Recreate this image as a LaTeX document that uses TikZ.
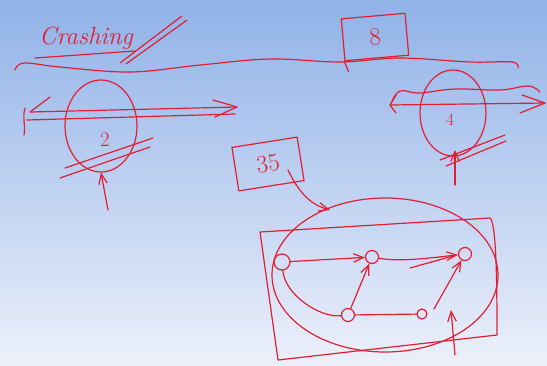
\documentclass[tikz,border=0pt]{standalone}
\usetikzlibrary{arrows.meta,positioning,shapes.geometric}
\definecolor{ink}{RGB}{226,30,52}
\definecolor{boardtop}{RGB}{144,178,232}
\definecolor{boardbot}{RGB}{236,240,250}
\begin{document}
\begin{tikzpicture}[
    x=1pt, y=-1pt,
    pen/.style={draw=ink, line width=1.2pt, line cap=round, line join=round},
    arrow/.style={pen, -{Straight Barb[length=3.5mm, width=3mm]}},
    vertex/.style={pen, circle, minimum size=13pt, inner sep=0pt},
    hand/.style={text=ink, font=\Huge},
    numbox/.style={pen, minimum width=64pt, minimum height=42pt, hand}
  ]
    % board
    \shade[top color=boardtop, bottom color=boardbot] (0,0) rectangle (547,365);
    \useasboundingbox (0,0) rectangle (547,365);

    % title and crossing marks
    \node[hand, font=\Huge\itshape] (crash) at (86,38) {Crashing};
    \draw[pen] (35,58) -- (135,51);
    \draw[pen] (120,63) -- (182,16);
    \draw[pen] (126,64) -- (187,20);
    \draw[pen] plot[smooth, tension=0.6] coordinates {(15,70) (24,63) (60,67) (130,72) (200,65) (270,59) (340,62) (400,58) (470,62) (512,62) (518,68)};

    % box 8
    \node[numbox, rotate=5] (eight) at (375,37) {8};
    \draw[pen] (eight.south west) -- ++(4,10);

    % left pulley
    \node[pen, ellipse, minimum width=72pt, minimum height=92pt] (pulleyL) at (101,126) {};
    \node[hand, font=\huge] (two) at (105,140) {2};
    \coordinate (shaftLa) at (30,112);
    \coordinate (shaftLb) at (237,107);
    \coordinate (shaftLc) at (27,120);
    \coordinate (shaftLd) at (235,114);
    \draw[pen] (shaftLa) -- (shaftLb);
    \draw[pen] (shaftLc) -- (shaftLd);
    \draw[pen] (213,100) -- (shaftLb) -- (215,117);
    \draw[pen] (50,97) -- (shaftLa);
    \draw[pen] (25,108) .. controls (22,118) and (26,126) .. (24,135);
    \draw[pen] (65,168) -- (153,138);
    \draw[pen] (60,178) -- (150,147);
    \coordinate (pushL) at (108,210);
    \draw[arrow] (pushL) -- (pulleyL.south);

    % right pulley
    \node[pen, ellipse, minimum width=66pt, minimum height=86pt] (pulleyR) at (453,113) {};
    \node[hand, font=\LARGE] (four) at (450,120) {4};
    \coordinate (shaftRa) at (390,105);
    \coordinate (shaftRb) at (545,103);
    \draw[pen] (shaftRa) -- (shaftRb);
    \draw[pen] (396,95) -- (shaftRa) -- (396,113);
    \draw[pen] (522,95) -- (shaftRb) -- (520,113);
    \draw[pen] plot[smooth, tension=0.7] coordinates {(392,102) (400,91) (420,93) (455,89) (500,90) (528,86) (540,92)};
    \draw[pen] (440,160) -- (505,135);
    \draw[pen] (446,166) -- (506,141);
    \coordinate (pushR) at (455,185);
    \draw[arrow] (pushR) -- (455,150);

    % box 35 pointing at the group
    \node[numbox, rotate=9, minimum width=66pt, minimum height=44pt] (thirtyfive) at (268,164) {35};
    \coordinate (rim) at (330,210);
    \draw[arrow] (288,170) .. controls (300,195) and (312,205) .. (rim);

    % group outline
    \draw[pen] (385,275) ellipse [x radius=113, y radius=77];
    \draw[pen] (260,232) -- (490,218) .. controls (497,222) and (497,300) .. (497,335) -- (278,360) -- cycle;

    % graph
    \node[vertex, minimum width=11pt, minimum height=16pt] (a) at (282,262) {};
    \node[vertex] (b) at (372,257) {};
    \node[vertex] (c) at (465,254) {};
    \node[vertex] (d) at (348,315) {};
    \node[vertex, minimum size=10pt] (e) at (422,314) {};
    \draw[arrow] (a) -- (b);
    \draw[arrow] (b) .. controls (400,262) and (430,258) .. (c);
    \draw[pen] (a) .. controls (285,295) and (320,318) .. (d);
    \draw[arrow] (d) -- (b);
    \draw[pen] (d) -- (e);
    \draw[arrow] (e) ++(12,-5) -- (c);
    \coordinate (stray) at (410,268);
    \draw[pen] (stray) -- (453,256);
    \coordinate (pushG) at (455,355);
    \draw[arrow] (pushG) -- (451,310);
  \end{tikzpicture}
\end{document}
